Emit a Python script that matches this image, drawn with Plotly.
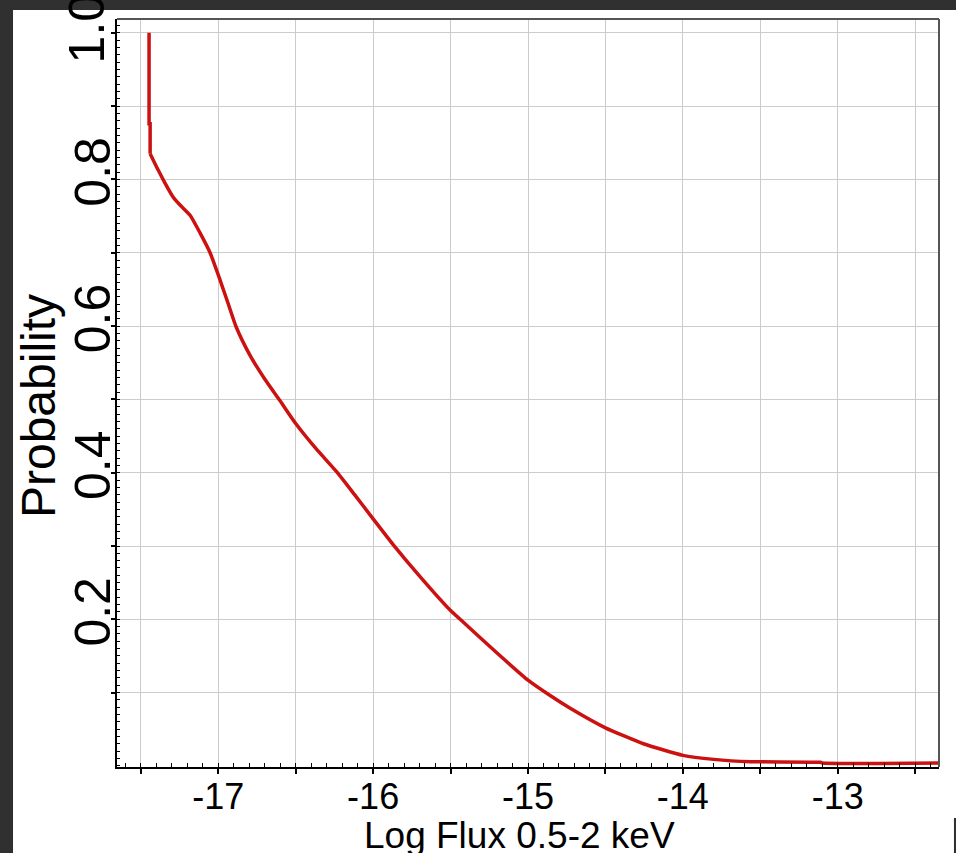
import plotly.graph_objects as go

# ---- data ----
log_flux = [-17.447, -17.447, -17.440, -17.440, -17.389, -17.344, -17.292, -17.247, -17.182,
            -17.118, -17.053, -16.989, -16.937, -16.885, -16.795, -16.698, -16.601, -16.5,
            -16.37, -16.235, -16.12, -16.0, -15.871, -15.7, -15.5, -15.438, -15.2, -15.0,
            -14.857, -14.73, -14.5, -14.25, -14.0, -13.8, -13.565, -13.11, -13.10, -12.346]
probability = [1.0, 0.876, 0.876, 0.835, 0.813, 0.795, 0.776, 0.765, 0.751,
               0.727, 0.700, 0.663, 0.631, 0.599, 0.560, 0.527, 0.498, 0.467,
               0.433, 0.401, 0.370, 0.337, 0.302, 0.259, 0.212, 0.200, 0.154, 0.117,
               0.096, 0.079, 0.052, 0.030, 0.0145, 0.009, 0.0058, 0.005, 0.004, 0.004]

x_tickvals = [-17.5, -17, -16.5, -16, -15.5, -15, -14.5, -14, -13.5, -13, -12.5]
x_ticktext = ["", "-17", "", "-16", "", "-15", "", "-14", "", "-13", ""]
y_tickvals = [0.1, 0.2, 0.3, 0.4, 0.5, 0.6, 0.7, 0.8, 0.9, 1.0]
y_ticktext = ["", "0.2", "", "0.4", "", "0.6", "", "0.8", "", ""]
y_top_label = "1.0"   # drawn separately: in the reference it sits higher than the tick

x_title = "Log Flux 0.5-2 keV"
y_title = "Probability"

FONT = "Liberation Sans, Arial, sans-serif"
DARK = "#303030"
RED = "#cc1111"

fig = go.Figure()
# steep vertical start (straight), then the smooth decline
fig.add_trace(go.Scatter(x=log_flux[:4], y=probability[:4], mode="lines",
                         line=dict(color=RED, width=3.5), showlegend=False, hoverinfo="skip"))
fig.add_trace(go.Scatter(x=log_flux[3:], y=probability[3:], mode="lines",
                         line=dict(color=RED, width=3.5, shape="spline", smoothing=0.5),
                         showlegend=False, hoverinfo="skip"))

fig.update_layout(
    width=956, height=853,
    margin=dict(l=117, r=17, t=19, b=86),
    paper_bgcolor="white", plot_bgcolor="white",
    font=dict(family=FONT, color="black"),
    xaxis=dict(range=[-17.654, -12.346], tickmode="array", tickvals=x_tickvals,
               ticktext=x_ticktext, ticks="outside", ticklen=5, tickwidth=1.5,
               tickcolor="black", showline=True, linecolor="black", linewidth=2,
               showgrid=True, gridcolor="#cccccc", gridwidth=1, zeroline=False,
               ticklabelstandoff=-8, ticklabeloverflow="allow",
               tickfont=dict(size=36, family=FONT, color="black"),
               minor=dict(tickmode="linear", tick0=0, dtick=0.1, ticks="inside",
                          ticklen=4, tickcolor="black", tickwidth=1, showgrid=False)),
    yaxis=dict(range=[-0.0014, 1.0187], tickmode="array", tickvals=y_tickvals,
               ticktext=y_ticktext, ticks="outside", ticklen=4, tickwidth=1.5,
               tickcolor="black", showline=True, linecolor="black", linewidth=2,
               showgrid=True, gridcolor="#cccccc", gridwidth=1, zeroline=False,
               tickangle=-90, ticklabelstandoff=-19, ticklabeloverflow="allow",
               tickfont=dict(size=50, family=FONT, color="black"),
               minor=dict(tickmode="linear", tick0=0, dtick=0.01, ticks="inside",
                          ticklen=3, tickcolor="black", tickwidth=1, showgrid=False)),
    shapes=[
        dict(type="line", xref="paper", yref="paper", x0=0, x1=1, y0=1, y1=1,
             line=dict(color="#555555", width=2)),
        dict(type="line", xref="paper", yref="paper", x0=1, x1=1, y0=0, y1=1,
             line=dict(color="#555555", width=2)),
        dict(type="rect", xref="paper", yref="paper", x0=-0.15, x1=1.03, y0=1.012, y1=1.04,
             fillcolor=DARK, line=dict(width=0), layer="above"),
        dict(type="rect", xref="paper", yref="paper", x0=-0.15, x1=-0.1265, y0=-0.13, y1=1.04,
             fillcolor=DARK, line=dict(width=0), layer="above"),
        dict(type="rect", xref="paper", yref="paper", x0=1.0182, x1=1.03, y0=-0.13, y1=-0.0682,
             fillcolor=DARK, line=dict(width=0), layer="above"),
    ],
    annotations=[
        dict(text=x_title, xref="paper", yref="paper", x=0.490, y=-0.062,
             xanchor="center", yanchor="top", showarrow=False,
             font=dict(size=37, family=FONT, color="black")),
        dict(text=y_title, xref="paper", yref="paper", x=-0.0961, y=0.4826,
             xanchor="center", yanchor="middle", textangle=-90, showarrow=False,
             font=dict(size=48, family=FONT, color="black")),
        dict(text=y_top_label, xref="paper", yref="paper", x=-0.036, y=0.988,
             xanchor="center", yanchor="middle", textangle=-90, showarrow=False,
             font=dict(size=50, family=FONT, color="black")),
    ],
)

fig.write_html("out.html", config={"displayModeBar": False},
               post_script="document.body.style.margin='0px';document.body.style.overflow='hidden';")
